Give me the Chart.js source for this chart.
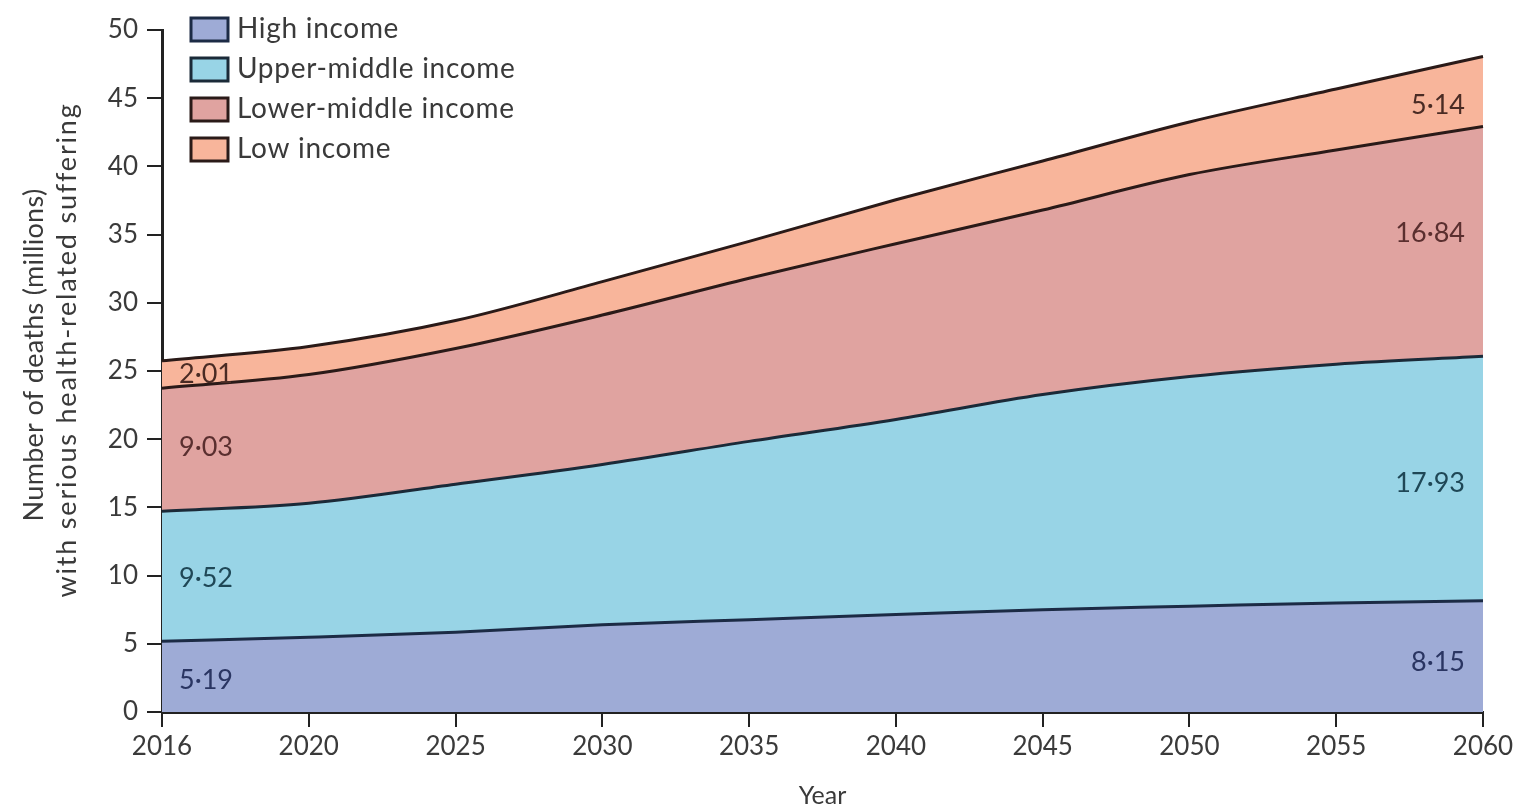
<!DOCTYPE html>
<html>
<head>
<meta charset="utf-8">
<title>Deaths with serious health-related suffering by income group</title>
<script src="https://cdn.jsdelivr.net/npm/chart.js@4"></script>
<style>
  html, body { margin: 0; padding: 0; background: #ffffff; }
  #wrap { width: 1522px; height: 807px; position: relative; }
</style>
</head>
<body>
<div id="wrap"><canvas id="chart" width="1522" height="807"></canvas></div>
<script>
// Years on the horizontal axis (evenly spaced categories)
const years = ['2016', '2020', '2025', '2030', '2035', '2040', '2045', '2050', '2055', '2060'];

// Deaths (millions) with serious health-related suffering, per income group
const highIncome        = [5.19, 5.48, 5.85, 6.40, 6.77, 7.14, 7.50, 7.75, 8.00, 8.15];
const upperMiddleIncome = [9.52, 9.82, 10.85, 11.75, 13.07, 14.31, 15.78, 16.85, 17.50, 17.93];
const lowerMiddleIncome = [9.03, 9.44, 9.95, 10.95, 11.96, 12.88, 13.52, 14.80, 15.70, 16.84];
const lowIncome         = [2.01, 2.06, 2.05, 2.45, 2.70, 3.22, 3.60, 3.86, 4.48, 5.14];

const seriesNames = ['High income', 'Upper-middle income', 'Lower-middle income', 'Low income'];
const seriesData  = [highIncome, upperMiddleIncome, lowerMiddleIncome, lowIncome];

// Value axis
const yMin = 0, yMax = 50, yStep = 5;

// Styling
const fillColors  = ['#9eabd6', '#98d4e6', '#e0a3a0', '#f8b59b'];
const lineColors  = ['#1c2b45', '#1b2a38', '#2a1a18', '#2a1a18'];
const labelColors = ['#2a3562', '#1f4756', '#5a2f2f', '#4a2b24'];
const textColor = '#3a3a3a';
const axisColor = '#222222';
const FONT = 'Lato, "Open Sans", sans-serif';

// Fine vertical nudges for the end-of-band value labels
const leftLabelNudge  = [4, 2, -2, 0];
const rightLabelNudge = [6, 5, -8, 14];

const fmt = v => v.toFixed(2).replace('.', '\u00B7');

const datasets = seriesData.map((d, i) => ({
  label: seriesNames[i],
  data: d,
  backgroundColor: fillColors[i],
  borderColor: lineColors[i],
  borderWidth: 3,
  fill: i === 0 ? 'origin' : '-1',
  pointRadius: 0,
  pointHoverRadius: 0,
  cubicInterpolationMode: 'monotone'
}));

// Value labels at the start and end of each band
const bandLabels = {
  id: 'bandLabels',
  afterDatasetsDraw(chart) {
    const ctx = chart.ctx;
    const yScale = chart.scales.y;
    const zeroY = yScale.getPixelForValue(0);
    ctx.save();
    ctx.font = '27px ' + FONT;
    ctx.textBaseline = 'middle';
    chart.data.datasets.forEach((ds, i) => {
      const meta = chart.getDatasetMeta(i);
      const prev = i > 0 ? chart.getDatasetMeta(i - 1) : null;
      const n = meta.data.length;
      const top0 = meta.data[0].y;
      const bot0 = prev ? prev.data[0].y : zeroY;
      const topN = meta.data[n - 1].y;
      const botN = prev ? prev.data[n - 1].y : zeroY;
      ctx.fillStyle = labelColors[i];
      ctx.textAlign = 'left';
      ctx.fillText(fmt(ds.data[0]), chart.chartArea.left + 17, (top0 + bot0) / 2 + leftLabelNudge[i]);
      ctx.textAlign = 'right';
      ctx.fillText(fmt(ds.data[n - 1]), chart.chartArea.right - 18, (topN + botN) / 2 + rightLabelNudge[i]);
    });
    ctx.restore();
  }
};

// Legend with outlined swatches in the upper-left corner
const boxLegend = {
  id: 'boxLegend',
  afterDraw(chart) {
    const ctx = chart.ctx;
    ctx.save();
    ctx.font = '28px ' + FONT;
    if ('letterSpacing' in ctx) ctx.letterSpacing = '0.7px';
    ctx.textBaseline = 'middle';
    ctx.textAlign = 'left';
    chart.data.datasets.forEach((ds, i) => {
      const cy = 29 + i * 40;
      ctx.fillStyle = ds.backgroundColor;
      ctx.fillRect(191, cy - 11, 37, 23);
      ctx.lineWidth = 3;
      ctx.strokeStyle = ds.borderColor;
      ctx.strokeRect(191, cy - 11, 37, 23);
      ctx.fillStyle = textColor;
      ctx.fillText(ds.label, 237, cy);
    });
    ctx.restore();
  }
};

// Two-line rotated title for the value axis
const yTitle = {
  id: 'yTitle',
  afterDraw(chart) {
    const ctx = chart.ctx;
    ctx.save();
    ctx.font = '27px ' + FONT;
    ctx.fillStyle = textColor;
    ctx.textAlign = 'center';
    ctx.textBaseline = 'middle';
    const lines = ['Number of deaths (millions)', 'with serious health-related suffering'];
    const xs = [34, 67];
    const ys = [355, 350];
    const spacing = ['0.3px', '1.8px'];
    lines.forEach((t, k) => {
      ctx.save();
      if ('letterSpacing' in ctx) ctx.letterSpacing = spacing[k];
      ctx.translate(xs[k], ys[k]);
      ctx.rotate(-Math.PI / 2);
      ctx.fillText(t, 0, 0);
      ctx.restore();
    });
    ctx.restore();
  }
};

new Chart(document.getElementById('chart'), {
  type: 'line',
  data: { labels: years, datasets },
  options: {
    responsive: false,
    devicePixelRatio: 1,
    animation: false,
    layout: { padding: { top: 30, right: 39, bottom: 0, left: 0 } },
    plugins: {
      legend: { display: false },
      tooltip: { enabled: false }
    },
    scales: {
      x: {
        type: 'category',
        offset: false,
        afterFit(scale) { scale.height = 95; },
        grid: { display: true, drawOnChartArea: false, drawTicks: true, tickLength: 15, color: axisColor, lineWidth: 2 },
        border: { display: true, color: axisColor, width: 3 },
        ticks: { color: textColor, font: { family: FONT, size: 26 }, padding: 4, maxRotation: 0, autoSkip: false },
        title: { display: true, text: 'Year', color: textColor, font: { family: FONT, size: 25 }, padding: { top: 0, bottom: -4 } }
      },
      y: {
        stacked: true,
        min: yMin,
        max: yMax,
        afterFit(scale) { scale.width = 162; },
        grid: { display: true, drawOnChartArea: false, drawTicks: true, tickLength: 15, color: axisColor, lineWidth: 2 },
        border: { display: true, color: axisColor, width: 3 },
        ticks: { stepSize: yStep, color: textColor, font: { family: FONT, size: 26 }, padding: 9 }
      }
    }
  },
  plugins: [bandLabels, boxLegend, yTitle]
});
</script>
</body>
</html>
